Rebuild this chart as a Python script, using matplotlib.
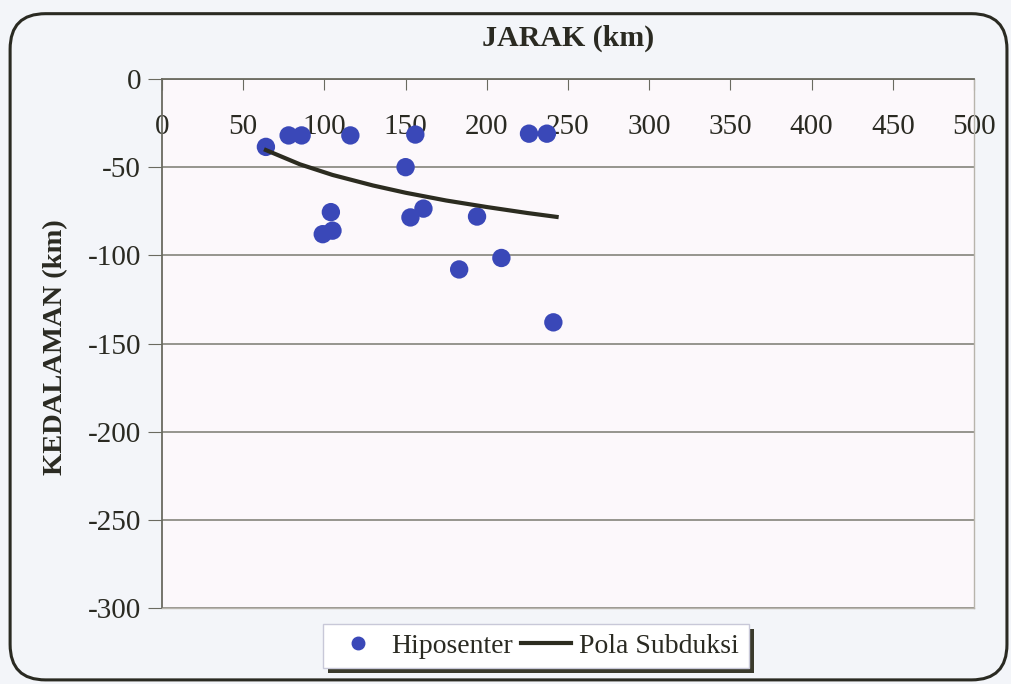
import matplotlib.pyplot as plt
from matplotlib.patches import FancyBboxPatch, Rectangle
from matplotlib.lines import Line2D

# Hiposenter points (jarak km, kedalaman km)
hypo_x = [64, 78, 86, 116, 156, 226, 237, 150, 104, 99, 105, 153, 161, 194, 183, 209, 241]
hypo_y = [-38.5, -32, -32, -32, -31.5, -31, -31, -50, -75.5, -88, -86, -78.5, -73.5, -78, -108, -101.5, -138]

# Pola Subduksi trend line, read at several points along the curve
trend_x = [64, 85, 105, 130, 150, 175, 200, 225, 243]
trend_y = [-40.3, -48.4, -54.4, -60.4, -64.5, -68.9, -72.6, -76.0, -78.2]

x_ticks = [0, 50, 100, 150, 200, 250, 300, 350, 400, 450, 500]
y_ticks = [0, -50, -100, -150, -200, -250, -300]

plt.rcParams['font.family'] = ['Liberation Serif', 'DejaVu Serif']

fig = plt.figure(figsize=(10.11, 6.84), dpi=100)
fig.patch.set_facecolor('#f3f5f9')

# rounded chart frame
frame = FancyBboxPatch((0.010, 0.006), 0.986, 0.974,
                       boxstyle="round,pad=0,rounding_size=0.035",
                       transform=fig.transFigure, facecolor='none',
                       edgecolor='#2a2a22', lw=2.2, mutation_aspect=1.48)
fig.patches.append(frame)

ax = fig.add_axes([0.1602, 0.1111, 0.8032, 0.7734])
ax.set_facecolor('#fcf8fb')

ax.scatter(hypo_x, hypo_y, s=175, color='#3a48b8', zorder=3,
           edgecolors='none', label='Hiposenter')
ax.plot(trend_x, trend_y, color='#2c2c20', lw=3, zorder=4,
        label='Pola Subduksi')

ax.set_xlim(0, 500)
ax.set_ylim(-300, 0)
ax.set_xticks(x_ticks)
ax.set_yticks(y_ticks)
ax.set_yticklabels([str(v) for v in y_ticks])

ax.grid(axis='y', color='#7a7a70', lw=1.1)
ax.set_axisbelow(True)
for side in ['left', 'top']:
    ax.spines[side].set_color('#6a6a60')
    ax.spines[side].set_linewidth(1.3)
for side in ['right', 'bottom']:
    ax.spines[side].set_color('#b8b4ac')
    ax.spines[side].set_linewidth(1.0)

ax.xaxis.tick_top()
ax.tick_params(axis='x', direction='in', length=8, color='#6a6a60',
               labelsize=21, pad=-44, labelcolor='#2a2a22')
ax.tick_params(axis='y', direction='out', length=10, color='#6a6a60',
               labelsize=21, pad=5, labelcolor='#2a2a22')

fig.text(0.562, 0.944, 'JARAK (km)', ha='center', va='center',
         fontsize=21.5, fontweight='bold', color='#2a2a22')
fig.text(0.055, 0.493, 'KEDALAMAN (km)', ha='center', va='center',
         rotation=90, fontsize=20.5, fontweight='bold', color='#2a2a22')

handles = [Line2D([], [], marker='o', ls='none', color='#3a48b8', markersize=9),
           Line2D([], [], color='#2c2c20', lw=3)]
leg = fig.legend(handles, ['Hiposenter', 'Pola Subduksi'], ncol=2,
                 loc='center', bbox_to_anchor=(0.530, 0.0556),
                 frameon=True, fancybox=False, fontsize=20, handlelength=1.8,
                 handletextpad=0.3, columnspacing=0.3, borderpad=0.35,
                 labelcolor='#2a2a22', framealpha=1.0)
leg.get_frame().set_edgecolor('#c8c8d8')
leg.get_frame().set_facecolor('white')
leg.get_frame().set_linewidth(1.0)
leg.set_zorder(2)

# drop shadow behind the legend box, offset right and down
fig.canvas.draw()
bb = leg.get_frame().get_window_extent().transformed(fig.transFigure.inverted())
dx, dy = 5 / 1011, 5 / 684
shadow = Rectangle((bb.x0 + dx, bb.y0 - dy), bb.width, bb.height,
                   transform=fig.transFigure, facecolor='#3a3a2c',
                   edgecolor='none', zorder=1)
fig.patches.append(shadow)

fig.savefig('out.png', dpi=100, facecolor=fig.get_facecolor())
